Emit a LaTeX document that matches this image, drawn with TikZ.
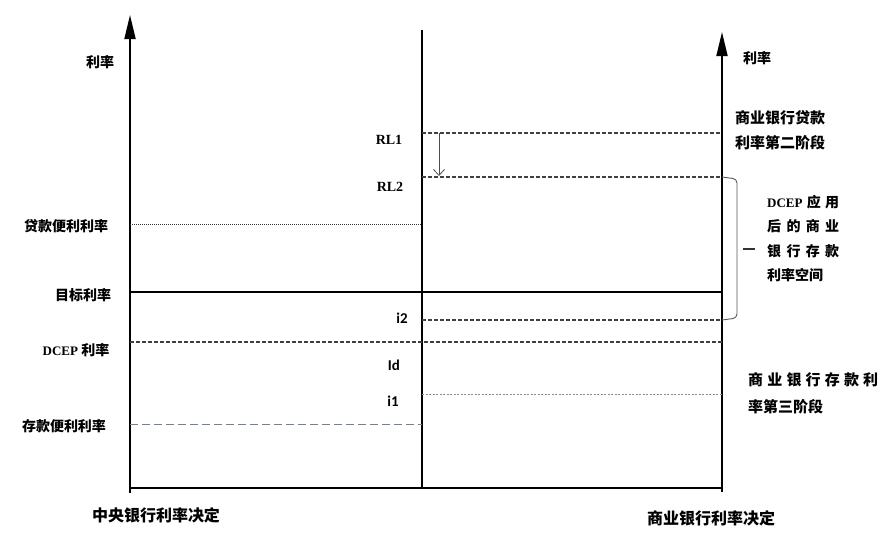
\documentclass[tikz,border=0pt]{standalone}
\usepackage{fontspec}
\usetikzlibrary{arrows.meta}
\newfontfamily\cjk{Noto Sans CJK SC}
\newfontfamily\carl{Carlito}
\newfontfamily\tms{Liberation Serif}
\definecolor{slate}{RGB}{110,130,150}
\tikzset{
	axis/.style={line width=1.8pt, black},
	level/.style={line width=1.1pt, black!75, dash pattern=on 4pt off 2pt},
	fine/.style={line width=0.6pt, black!80, dash pattern=on 1pt off 1pt},
	light/.style={line width=0.9pt, black!45, dash pattern=on 2pt off 1.5pt},
	deposit/.style={line width=0.9pt, slate, dash pattern=on 8pt off 4pt},
	lbl/.style={font=\cjk\bfseries\fontsize{14}{14}\selectfont, inner sep=0pt},
	big/.style={font=\cjk\bfseries\fontsize{16}{16}\selectfont, inner sep=0pt},
	note/.style={font=\cjk\bfseries\fontsize{15}{25}\selectfont, inner sep=0pt, align=left, anchor=north west},
}
\begin{document}
\begin{tikzpicture}[x=1pt, y=-1pt]
	\useasboundingbox (0,0) rectangle (892,555);
	% axes and frame
	\coordinate (0) at (130,493);
	\coordinate (1) at (130,15);
	\coordinate (2) at (722,492);
	\coordinate (3) at (722,32);
	\coordinate (4) at (422,30);
	\coordinate (5) at (422,488);
	\coordinate (6) at (130,488);
	\coordinate (7) at (722,488);
	\draw[axis, -{Triangle[length=24pt, width=11pt]}] (0) to (1);
	\draw[axis, -{Triangle[length=24pt, width=11pt]}] (2) to (3);
	\draw[axis] (4) to (5);
	\draw[axis] (6) to (7);
	% rate levels
	\coordinate (8) at (422,133);
	\coordinate (9) at (722,133);
	\coordinate (10) at (422,177);
	\coordinate (11) at (722,177);
	\coordinate (12) at (130,224);
	\coordinate (13) at (422,224);
	\coordinate (14) at (130,292);
	\coordinate (15) at (722,292);
	\coordinate (16) at (422,320);
	\coordinate (17) at (722,320);
	\coordinate (18) at (130,342);
	\coordinate (19) at (722,342);
	\coordinate (20) at (422,394);
	\coordinate (21) at (722,394);
	\coordinate (22) at (130,424);
	\coordinate (23) at (422,424);
	\draw[level] (8) to (9);
	\draw[level] (10) to (11);
	\draw[fine] (12) to (13);
	\draw[axis] (14) to (15);
	\draw[level] (16) to (17);
	\draw[level] (18) to (19);
	\draw[light] (20) to (21);
	\draw[deposit] (22) to (23);
	\coordinate (24) at (439,133);
	\coordinate (25) at (439,176);
	\draw[black!70, line width=0.8pt, -{Straight Barb[length=6pt, width=11pt]}] (24) to (25);
	% bracket
	\coordinate (26) at (743,249);
	\coordinate (27) at (755,249);
	\draw[black!65, line width=0.9pt, rounded corners=4pt] (11) -- (737,179) -- (737,318) -- (17);
	\draw[black!80, line width=1.6pt] (26) to (27);
	% labels
	\node[lbl] (28) at (100,62) {利率};
	\node[lbl] (29) at (757,58) {利率};
	\node[lbl, font=\tms\bfseries\fontsize{14}{14}\selectfont] (30) at (389,140) {RL1};
	\node[lbl, font=\tms\bfseries\fontsize{14}{14}\selectfont] (31) at (390,187) {RL2};
	\node[lbl] (32) at (66,226) {贷款便利利率};
	\node[lbl] (33) at (83,295) {目标利率};
	\node[lbl] (34) at (76,350) {{\tms\bfseries\fontsize{13}{13}\selectfont DCEP} 利率};
	\node[lbl] (35) at (64,426) {存款便利利率};
	\node[lbl, font=\carl\bfseries\fontsize{15}{15}\selectfont] (36) at (402,318) {i2};
	\node[lbl, font=\carl\bfseries\fontsize{15}{15}\selectfont] (37) at (394,365) {Id};
	\node[lbl, font=\carl\bfseries\fontsize{15}{15}\selectfont] (38) at (393,401) {i1};
	\node[big] (39) at (156,515) {中央银行利率决定};
	\node[big] (40) at (711,518) {商业银行利率决定};
	\node[note] (41) at (735,110) {商业银行贷款\\利率第二阶段};
	\node[note, font=\cjk\bfseries\fontsize{14}{24.5}\selectfont] (42) at (767,195) {\makebox[72pt]{{\tms\bfseries\fontsize{13}{13}\selectfont DCEP}\hfill 应\hfill 用}\\\makebox[72pt]{后\hfill 的\hfill 商\hfill 业}\\\makebox[72pt]{银\hfill 行\hfill 存\hfill 款}\\利率空间};
	\node[note, font=\cjk\bfseries\fontsize{15}{27}\selectfont] (43) at (748,372) {\makebox[130pt]{商\hfill 业\hfill 银\hfill 行\hfill 存\hfill 款\hfill 利}\\率第三阶段};
\end{tikzpicture}
\end{document}
